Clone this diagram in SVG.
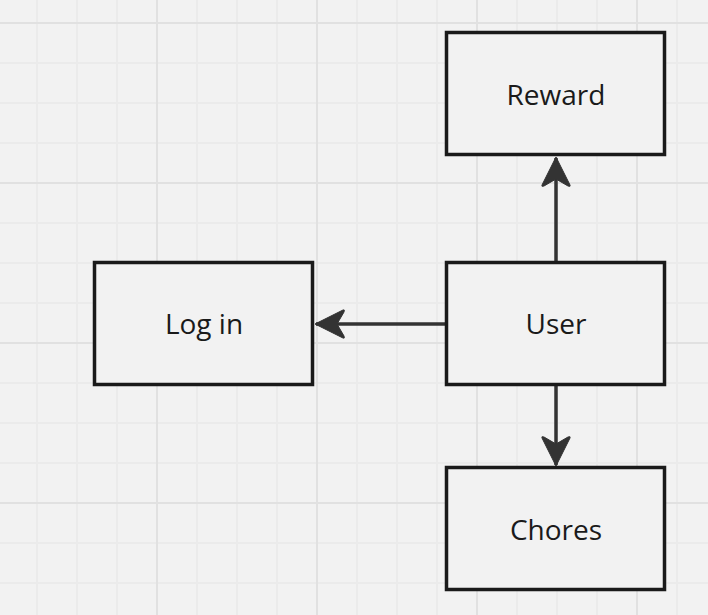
<svg xmlns="http://www.w3.org/2000/svg" width="708" height="615" viewBox="0 0 708 615">
<style>
.minor{stroke:#ebebeb;stroke-width:2}
.major{stroke:#e1e1e1;stroke-width:2}
.box{fill:#f2f2f2;stroke:#1a1a1a;stroke-width:3.5}
.lbl{font-family:"Open Sans",sans-serif;font-size:28px;fill:#1a1a1a;text-anchor:middle;dominant-baseline:central}
.edge{stroke:#333;stroke-width:3.5;fill:none}
</style>
<defs>
<marker id="ah" viewBox="0 0 32 32" refX="30" refY="16" markerWidth="32" markerHeight="32" markerUnits="userSpaceOnUse" orient="auto">
<path d="M31,16 L3,2 Q1,1 2,4 L9,16 L2,28 Q1,31 3,30 Z" fill="#333" stroke="#333" stroke-width="1" stroke-linejoin="round"/>
</marker>
</defs>
<rect width="708" height="615" fill="#f2f2f2"/>
<g id="grid">
<path class="minor" d="M37,0V615M77,0V615M117,0V615M197,0V615M237,0V615M277,0V615M357,0V615M397,0V615M437,0V615M517,0V615M557,0V615M597,0V615M677,0V615M0,63H708M0,103H708M0,143H708M0,223H708M0,263H708M0,303H708M0,383H708M0,423H708M0,463H708M0,543H708M0,583H708"/>
<path class="major" d="M157,0V615M317,0V615M477,0V615M637,0V615M0,23H708M0,183H708M0,343H708M0,503H708"/>
</g>
<g id="connectors">
<path class="edge" d="M556,262V158" marker-end="url(#ah)"/>
<path class="edge" d="M446,324H316" marker-end="url(#ah)"/>
<path class="edge" d="M556,385V465" marker-end="url(#ah)"/>
</g>
<g id="reward"><rect class="box" x="446.5" y="32.5" width="218" height="122"/><text class="lbl" x="556" y="94">Reward</text></g>
<g id="user"><rect class="box" x="446.5" y="262.5" width="218" height="122"/><text class="lbl" x="556" y="323">User</text></g>
<g id="login"><rect class="box" x="94.5" y="262.5" width="218" height="122"/><text class="lbl" x="204" y="323">Log in</text></g>
<g id="chores"><rect class="box" x="446.5" y="467.5" width="218" height="122"/><text class="lbl" x="556" y="529">Chores</text></g>
</svg>
